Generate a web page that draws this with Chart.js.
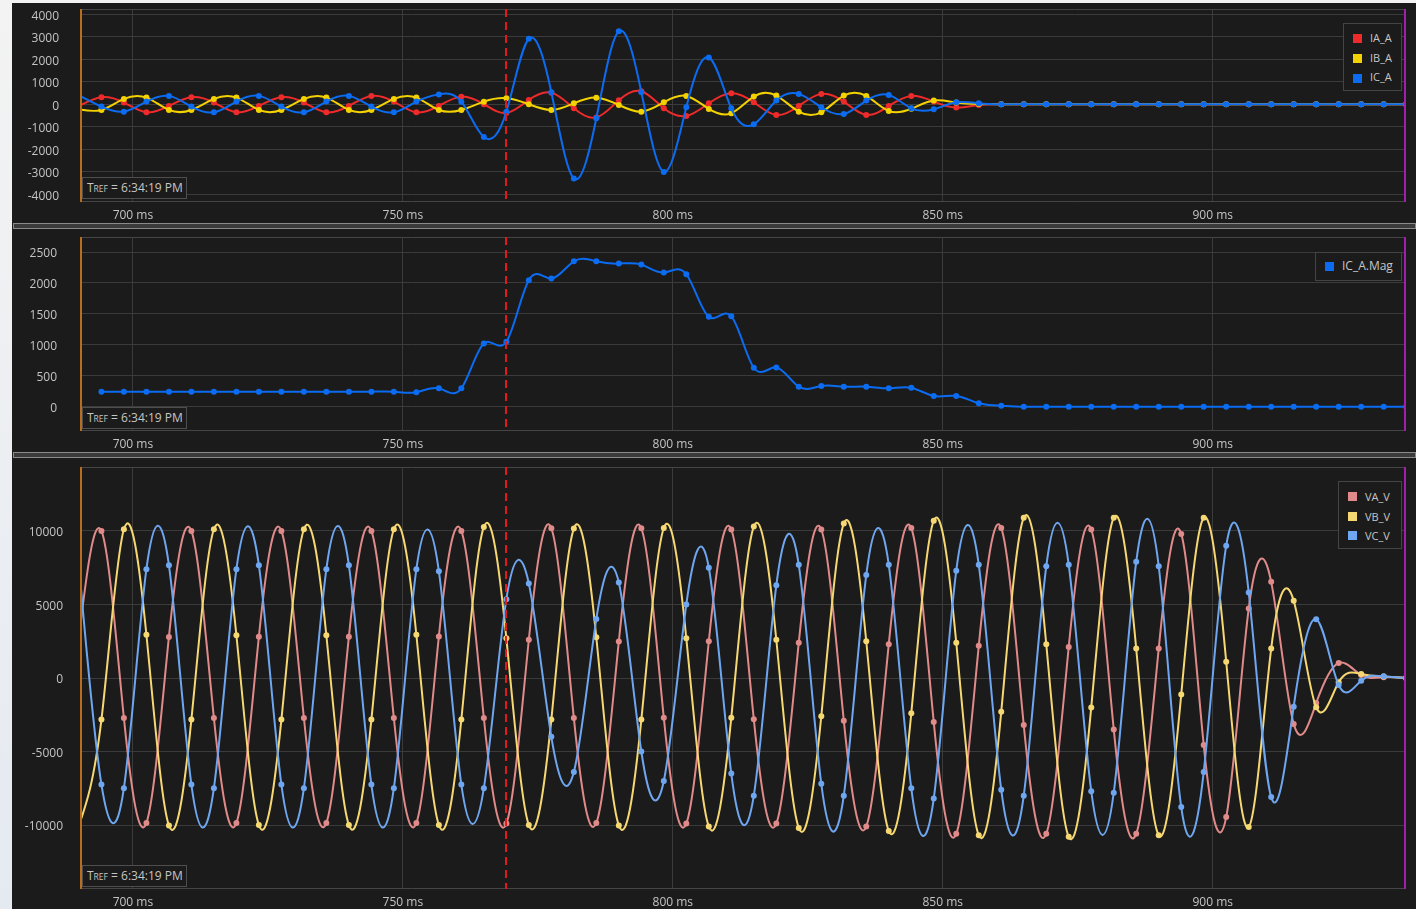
<!DOCTYPE html>
<html>
<head>
<meta charset="utf-8">
<script src="https://cdn.jsdelivr.net/npm/chart.js@4.4.1/dist/chart.umd.min.js"></script>
<style>
  html, body { margin: 0; padding: 0; }
  body {
    width: 1416px; height: 909px; overflow: hidden; position: relative;
    background: linear-gradient(#f3f3f3, #e5eaf1);
    font-family: "Open Sans", sans-serif;
  }
  #frame { position: absolute; left: 12px; top: 3px; width: 1404px; height: 906px; background: #1b1b1b; }
  canvas { position: absolute; left: 12px; }
  .sep {
    position: absolute; left: 13px; width: 1401px; height: 4px;
    border: 1px solid #8a8a8a; background: #3b3b3b;
  }
  .tref {
    position: absolute; left: 82px; width: 105px; height: 22px; box-sizing: border-box;
    border: 1px solid #4e4e4e; background: #1b1b1b; color: #c6c6c6;
    font-size: 12px; line-height: 20px; padding-left: 4px; white-space: nowrap;
  }
  .tref .sub { font-size: 8.5px; }
  .legend {
    position: absolute; box-sizing: border-box; border: 1px solid #444; background: #1b1b1b;
    color: #c6c6c6; font-size: 11px;
  }
  .legend div { position: absolute; white-space: nowrap; line-height: 14px; }
  .legend i { position: absolute; width: 9px; height: 9px; }
</style>
</head>
<body>
<div id="frame"></div>

<canvas id="cur" width="1404" height="220" style="top:3px"></canvas>
<div class="sep" style="top:223px"></div>
<canvas id="mag" width="1404" height="223" style="top:229px"></canvas>
<div class="sep" style="top:452px"></div>
<canvas id="volt" width="1404" height="451" style="top:458px"></canvas>

<div class="tref" style="top:177px">T<span class="sub">REF</span> = 6:34:19 PM</div>
<div class="tref" style="top:407px">T<span class="sub">REF</span> = 6:34:19 PM</div>
<div class="tref" style="top:865px">T<span class="sub">REF</span> = 6:34:19 PM</div>

<div class="legend" style="left:1343px;top:23px;width:59px;height:68px">
  <i style="left:9px;top:10px;background:#ee2a2a"></i><div style="left:26px;top:7px">IA_A</div>
  <i style="left:9px;top:30px;background:#f4d200"></i><div style="left:26px;top:27px">IB_A</div>
  <i style="left:9px;top:50px;background:#0b6cf2"></i><div style="left:26px;top:46px">IC_A</div>
</div>
<div class="legend" style="left:1315px;top:252px;width:87px;height:29px;font-size:12px">
  <i style="left:9px;top:9px;background:#0b6cf2"></i><div style="left:26px;top:6px">IC_A.Mag</div>
</div>
<div class="legend" style="left:1338px;top:481px;width:64px;height:68px">
  <i style="left:9px;top:10px;background:#e08a8a"></i><div style="left:26px;top:8px">VA_V</div>
  <i style="left:9px;top:30px;background:#f6d873"></i><div style="left:26px;top:28px">VB_V</div>
  <i style="left:9px;top:49px;background:#6fa6f0"></i><div style="left:26px;top:47px">VC_V</div>
</div>

<script>
// ---------------------------------------------------------------
// Dados (amostras a 240 Hz)
// ---------------------------------------------------------------
const TIME_MS = [
  690.00, 694.17, 698.33, 702.50, 706.67, 710.83, 715.00, 719.17, 723.33, 727.50,
  731.67, 735.83, 740.00, 744.17, 748.33, 752.50, 756.67, 760.83, 765.00, 769.17,
  773.33, 777.50, 781.67, 785.83, 790.00, 794.17, 798.33, 802.50, 806.67, 810.83,
  815.00, 819.17, 823.33, 827.50, 831.67, 835.83, 840.00, 844.17, 848.33, 852.50,
  856.67, 860.83, 865.00, 869.17, 873.33, 877.50, 881.67, 885.83, 890.00, 894.17,
  898.33, 902.50, 906.67, 910.83, 915.00, 919.17, 923.33, 927.50, 931.67, 935.83
];

const IA_A = [
  -80, 313, 75, -358, -75, 313, 75, -358, -75, 313,
  75, -358, -75, 372, 119, -358, -75, 340, 0, -390,
  192, 518, -178, -590, 180, 580, -179, -521, 45, 492,
  89, -477, -75, 462, 119, -477, -75, 372, 119, -149,
  -30, 0, 0, 0, 0, 0, 0, 0, 0, 0,
  0, 0, 0, 0, 0, 0, 0, 0, 0, 0
];
const IB_A = [
  -224, -253, 238, 298, -253, -253, 238, 298, -253, -253,
  238, 298, -253, -253, 238, 298, -253, -254, 116, 268,
  0, -254, 45, 295, -30, -330, 89, 372, -209, -402,
  343, 387, -328, -358, 387, 372, -298, -200, 164, 75,
  15, 0, 0, 0, 0, 0, 0, 0, 0, 0,
  0, 0, 0, 0, 0, 0, 0, 0, 0, 0
];
const IC_A = [
  400, -104, -328, 119, 373, -104, -358, 119, 373, -104,
  -358, 119, 373, -104, -358, 119, 440, 116, -1460, -335,
  2915, 535, -3300, -625, 3245, 540, -3010, -134, 2086, -179,
  -894, 164, 462, -134, -432, 164, 417, -179, -224, 89,
  45, 0, 0, 0, 0, 0, 0, 0, 0, 0,
  0, 0, 0, 0, 0, 0, 0, 0, 0, 0
];
const IC_A_MAG = [
  null, 242, 242, 240, 242, 242, 240, 242, 242, 240,
  242, 242, 240, 242, 242, 232, 297, 297, 1023, 1049,
  2044, 2071, 2350, 2350, 2313, 2297, 2168, 2141, 1452, 1463,
  629, 635, 323, 334, 323, 323, 297, 307, 173, 173,
  55, 16, 0, 0, 0, 0, 0, 0, 0, 0,
  0, 0, 0, 0, 0, 0, 0, 0, 0, 0
];
const VA_V = [
  2830, 10000, -2716, -9860, 2790, 10000, -2720, -9860, 2800, 10000,
  -2720, -9860, 2800, 10000, -2720, -9860, 2830, 10000, -2720, -9900,
  2600, 10185, -2716, -9860, 2490, 10185, -2700, -9900, 2500, 10100,
  -2800, -9900, 2400, 10100, -2900, -10100, 2300, 10200, -3000, -10600,
  2200, 10200, -3200, -10600, 2100, 10100, -3500, -10600, 2000, 9800,
  -4550, -9460, 4730, 6540, -3120, -1700, 1020, 200, 50, 0
];
const VB_V = [
  -10027, -2830, 10117, 2940, -10027, -2830, 10117, 2900, -10000, -2830,
  10117, 2900, -10000, -2830, 10117, 2940, -10000, -2830, 10273, 2695,
  -10000, -2830, 10165, 2763, -10027, -2830, 10200, 2700, -10100, -2700,
  10300, 2600, -10200, -2600, 10500, 2500, -10400, -2400, 10700, 2400,
  -10700, -2300, 10900, 2300, -10800, -2000, 10900, 2000, -10700, -1130,
  10900, 1110, -10140, 2000, 5250, -1990, -290, 270, 100, 0
];
const VC_V = [
  7673, -7245, -7490, 7400, 7670, -7245, -7490, 7400, 7670, -7245,
  -7490, 7400, 7670, -7245, -7490, 7400, 7265, -7245, -7490, 5364,
  6430, -4000, -6400, 4006, 6498, -5000, -7000, 5000, 7500, -6500,
  -8000, 6300, 7700, -7200, -8000, 7000, 7700, -7500, -8200, 7300,
  7700, -7600, -8000, 7600, 7700, -7700, -7800, 7900, 7600, -8780,
  -6400, 9000, 5820, -8100, -1950, 4000, -475, -180, 115, 0
];

const X_TICKS = [700, 750, 800, 850, 900];
const Y_TICKS_CUR = [-4000, -3000, -2000, -1000, 0, 1000, 2000, 3000, 4000];
const Y_TICKS_MAG = [0, 500, 1000, 1500, 2000, 2500];
const Y_TICKS_VOLT = [-10000, -5000, 0, 5000, 10000];
const MARKER_MS = 769.1;

// ---------------------------------------------------------------
// Tema
// ---------------------------------------------------------------
const GRID = '#3b3b3b';
const TICK = '#c4c4c4';
const FONT = { family: '"Open Sans", sans-serif', size: 12 };

const pts = (vals) => TIME_MS.map((t, i) => ({ x: t, y: vals[i] }));

function serie(label, vals, color, order) {
  return {
    label, data: pts(vals), order,
    borderColor: color, backgroundColor: color,
    borderWidth: 2, tension: 0.4,
    pointRadius: 3, pointHoverRadius: 3, pointBorderWidth: 0,
  };
}

// spline cúbica natural: só reposiciona os pontos de controle das curvas de Bézier do Chart.js
function segundasDerivadas(xs, ys) {
  const n = xs.length;
  const M = new Array(n).fill(0);
  if (n < 3) return M;
  const a = [], b = [], c = [], d = [];
  for (let i = 1; i < n - 1; i++) {
    const h0 = xs[i] - xs[i - 1], h1 = xs[i + 1] - xs[i];
    a.push(h0); b.push(2 * (h0 + h1)); c.push(h1);
    d.push(6 * ((ys[i + 1] - ys[i]) / h1 - (ys[i] - ys[i - 1]) / h0));
  }
  const m = b.length;
  for (let i = 1; i < m; i++) {
    const w = a[i] / b[i - 1];
    b[i] -= w * c[i - 1];
    d[i] -= w * d[i - 1];
  }
  const s = new Array(m);
  s[m - 1] = d[m - 1] / b[m - 1];
  for (let i = m - 2; i >= 0; i--) s[i] = (d[i] - c[i] * s[i + 1]) / b[i];
  for (let i = 0; i < m; i++) M[i + 1] = s[i];
  return M;
}

const splineNatural = {
  id: 'splineNatural',
  beforeDatasetDraw(chart, args) {
    const meta = args.meta;
    meta.dataset.updateControlPoints(chart.chartArea, meta.indexAxis);
    const p = meta.data.filter(e => !e.skip);
    if (p.length < 3) return;
    const xs = p.map(e => e.x), ys = p.map(e => e.y);
    const M = segundasDerivadas(xs, ys);
    for (let i = 0; i < p.length - 1; i++) {
      const h = xs[i + 1] - xs[i];
      const s = (ys[i + 1] - ys[i]) / h;
      const d0 = s - h * (2 * M[i] + M[i + 1]) / 6;
      const d1 = s + h * (M[i] + 2 * M[i + 1]) / 6;
      p[i].cp2x = xs[i] + h / 3;       p[i].cp2y = ys[i] + d0 * h / 3;
      p[i + 1].cp1x = xs[i + 1] - h / 3; p[i + 1].cp1y = ys[i + 1] - d1 * h / 3;
    }
    p[0].cp1x = xs[0]; p[0].cp1y = ys[0];
    const z = p.length - 1;
    p[z].cp2x = xs[z]; p[z].cp2y = ys[z];
  }
};

// moldura da área do gráfico + cursor tracejado
const moldura = {
  id: 'moldura',
  afterDatasetsDraw(chart) {
    const { ctx, chartArea: a, scales } = chart;
    ctx.save();
    ctx.lineWidth = 1;
    ctx.strokeStyle = '#454545';
    ctx.beginPath();
    ctx.moveTo(a.left, a.top + 0.5); ctx.lineTo(a.right, a.top + 0.5);
    ctx.moveTo(a.left, a.bottom - 0.5); ctx.lineTo(a.right, a.bottom - 0.5);
    ctx.stroke();
    ctx.lineWidth = 2;
    ctx.strokeStyle = '#b86e1e';
    ctx.beginPath(); ctx.moveTo(a.left + 1, a.top); ctx.lineTo(a.left + 1, a.bottom); ctx.stroke();
    ctx.strokeStyle = '#a21fae';
    ctx.beginPath(); ctx.moveTo(a.right - 1, a.top); ctx.lineTo(a.right - 1, a.bottom); ctx.stroke();
    // cursor
    const x = scales.x.getPixelForValue(MARKER_MS);
    ctx.strokeStyle = '#e21a1a';
    ctx.lineWidth = 2;
    ctx.setLineDash([8, 5]);
    ctx.beginPath(); ctx.moveTo(x, a.top); ctx.lineTo(x, a.bottom); ctx.stroke();
    ctx.restore();
  }
};

function painel(id, datasets, { yMin, yMax, yTicks, top, xH, yPad }) {
  return new Chart(document.getElementById(id), {
    type: 'line',
    data: { datasets },
    plugins: [splineNatural, moldura],
    options: {
      responsive: false,
      animation: false,
      events: [],
      layout: { padding: { top, right: 10, left: 0, bottom: 0 } },
      plugins: { legend: { display: false }, tooltip: { enabled: false } },
      scales: {
        x: {
          type: 'linear', min: 690.2, max: 935.8,
          afterBuildTicks: (s) => { s.ticks = X_TICKS.map(v => ({ value: v })); },
          afterFit: (s) => { s.height = xH; s.paddingLeft = 0; s.paddingRight = 0; },
          grid: { color: GRID, drawTicks: false },
          border: { display: false },
          ticks: { color: TICK, font: FONT, padding: 6, maxRotation: 0, callback: (v) => v + ' ms' },
        },
        y: {
          min: yMin, max: yMax,
          afterBuildTicks: (s) => { s.ticks = yTicks.map(v => ({ value: v })); },
          afterFit: (s) => { s.width = 68; s.paddingTop = 0; s.paddingBottom = 0; },
          grid: { color: GRID, drawTicks: false },
          border: { display: false },
          ticks: { color: TICK, font: FONT, padding: yPad, labelOffset: 2, callback: (v) => String(v) },
        },
      },
    },
  });
}

painel('cur', [
  serie('IA_A', IA_A, '#ee2a2a', 3),
  serie('IB_A', IB_A, '#f4d200', 2),
  serie('IC_A', IC_A, '#0b6cf2', 1),
], { yMin: -4350, yMax: 4240, yTicks: Y_TICKS_CUR, top: 6, xH: 21, yPad: 21 });

painel('mag', [
  serie('IC_A.Mag', IC_A_MAG, '#0b6cf2', 1),
], { yMin: -393, yMax: 2743, yTicks: Y_TICKS_MAG, top: 8, xH: 21, yPad: 23 });

painel('volt', [
  serie('VA_V', VA_V, '#e08a8a', 3),
  serie('VB_V', VB_V, '#f6d873', 2),
  serie('VC_V', VC_V, '#6fa6f0', 1),
], { yMin: -14350, yMax: 14350, yTicks: Y_TICKS_VOLT, top: 9, xH: 20, yPad: 17 });
</script>
</body>
</html>
